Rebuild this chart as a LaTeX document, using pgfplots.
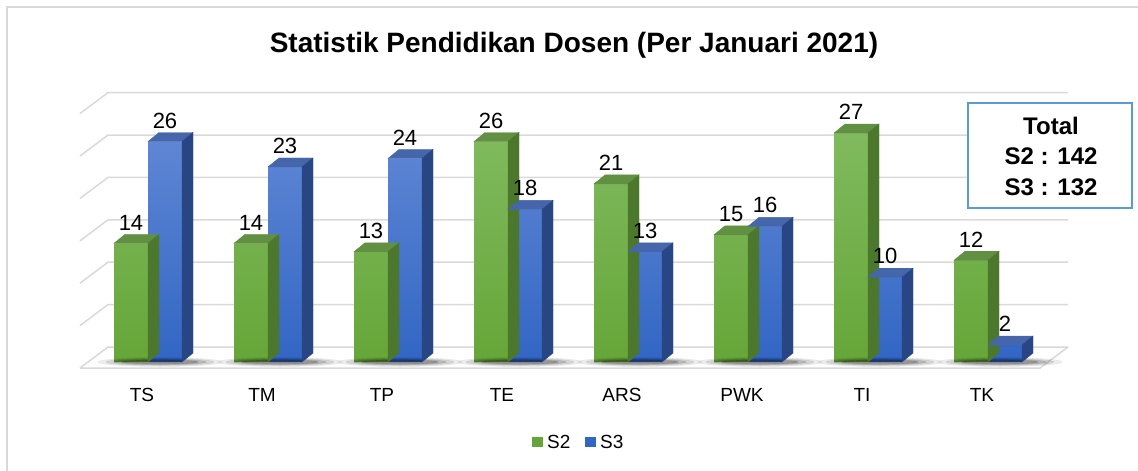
\documentclass[border=0pt]{standalone}
\usepackage{pgfplots}
\pgfplotsset{compat=1.18}
\usepackage{pgfplotstable}
\usepackage{fontspec}
\setmainfont{Liberation Sans}
\definecolor{gfront1}{RGB}{128,186,94}
\definecolor{gfront2}{RGB}{102,166,56}
\definecolor{gtop}{RGB}{98,144,66}
\definecolor{gside}{RGB}{76,120,46}
\definecolor{bfront1}{RGB}{94,134,212}
\definecolor{bfront2}{RGB}{50,102,196}
\definecolor{btop}{RGB}{70,102,172}
\definecolor{bside}{RGB}{40,70,132}
\definecolor{gridc}{RGB}{217,217,217}
\definecolor{boxc}{RGB}{91,155,213}
\pgfdeclareplotmark{emptymark}{}
\pgfplotstableread{
x S2 S3
0 14 26
1 14 23
2 13 24
3 26 18
4 21 13
5 15 16
6 27 10
7 12 2
}\datatable
\begin{document}
\begin{tikzpicture}
\useasboundingbox (0pt,0pt) rectangle (1138pt,-471pt);
\draw[gridc, line width=1.5pt] (7pt,-471pt) -- (7pt,-7pt) -- (1138pt,-7pt);
\node[font=\bfseries\fontsize{28}{32}\selectfont, anchor=base] at (574pt,-52pt) {Statistik Pendidikan Dosen (Per Januari 2021)};
\begin{axis}[
  at={(88pt,-362pt)}, anchor=south west,
  x=120pt, y=8.48pt,
  xmin=-0.5, xmax=7.5, ymin=0, ymax=30,
  axis line style={draw=none}, tick style={draw=none},
  ytick=\empty,
  xtick={0,...,7},
  xticklabels={TS,TM,TP,TE,ARS,PWK,TI,TK},
  xticklabel style={font=\fontsize{19}{21}\selectfont, anchor=north, inner sep=0pt, yshift=-26pt, xshift=-6pt},
  clip=false,
  /pgf/number format/assume math mode=true,
]
\pgfplotsinvokeforeach{0,5,10,15,20,25,30}{
  \draw[gridc, line width=1.5pt] ([shift={(-8pt,-6pt)}]axis cs:-0.5,#1) -- ([shift={(20pt,15pt)}]axis cs:-0.5,#1) -- ([shift={(20pt,15pt)}]axis cs:7.5,#1);
}
\draw[gridc, line width=1.5pt] ([shift={(-8pt,-6pt)}]axis cs:-0.5,0) -- ([shift={(-8pt,-6pt)}]axis cs:7.5,0) -- ([shift={(20pt,15pt)}]axis cs:7.5,0);
% shadows
\addplot[only marks, mark=emptymark, scatter,
  visualization depends on={rawy\as\val},
  scatter/@pre marker code/.code={
    \fill[black, opacity=0.07] (12pt,{-8.48pt*\val}) ellipse (62pt and 4.5pt);
    \fill[black, opacity=0.10] (12pt,{-8.48pt*\val}) ellipse (54pt and 3.6pt);
    \fill[black, opacity=0.14] (12pt,{-8.48pt*\val}) ellipse (46pt and 2.8pt);
    \fill[black, opacity=0.18] (12pt,{-8.48pt*\val}) ellipse (38pt and 2.0pt);
  },
  scatter/@post marker code/.code={}] table[x=x,y=S2]{\datatable};
% S2 front
\addplot[ybar, bar width=34pt, bar shift=-17pt, draw=none, top color=gfront1, bottom color=gfront2,
  nodes near coords,
  every node near coord/.append style={font=\fontsize{22}{24}\selectfont, anchor=south, inner sep=0pt, yshift=13pt, xshift=-17pt, black}]
  table[x=x,y=S2]{\datatable};
% S2 faces
\addplot[only marks, mark=emptymark, scatter,
  visualization depends on={rawy\as\val},
  scatter/@pre marker code/.code={
    \fill[gtop] (-34pt,0pt) -- (0pt,0pt) -- (11pt,9pt) -- (-23pt,9pt) -- cycle;
    \fill[gside] (0pt,0pt) -- (11pt,9pt) -- (11pt,{9pt-8.48pt*\val}) -- (0pt,{-8.48pt*\val}) -- cycle;
  },
  scatter/@post marker code/.code={}] table[x=x,y=S2]{\datatable};
% S3 front
\addplot[ybar, bar width=34pt, bar shift=17pt, draw=none, top color=bfront1, bottom color=bfront2,
  nodes near coords,
  every node near coord/.append style={font=\fontsize{22}{24}\selectfont, anchor=south, inner sep=0pt, yshift=13pt, xshift=17pt, black}]
  table[x=x,y=S3]{\datatable};
% S3 faces
\addplot[only marks, mark=emptymark, scatter,
  visualization depends on={rawy\as\val},
  scatter/@pre marker code/.code={
    \fill[btop] (0pt,0pt) -- (34pt,0pt) -- (45pt,9pt) -- (11pt,9pt) -- cycle;
    \fill[bside] (34pt,0pt) -- (45pt,9pt) -- (45pt,{9pt-8.48pt*\val}) -- (34pt,{-8.48pt*\val}) -- cycle;
  },
  scatter/@post marker code/.code={}] table[x=x,y=S3]{\datatable};
\end{axis}
% Total box
\filldraw[fill=white, draw=boxc, line width=1.5pt] (968pt,-103pt) rectangle (1132pt,-208pt);
\node[font=\bfseries\fontsize{24}{30.5}\selectfont, align=center, inner sep=0pt] at (1051pt,-156pt) {Total\\S2 : 142\\S3 : 132};
% legend
\fill[gfront2] (532pt,-437pt) rectangle (543pt,-447pt);
\node[anchor=base west, inner sep=0pt, font=\fontsize{19}{21}\selectfont] at (547pt,-448pt) {S2};
\fill[bfront2] (585pt,-437pt) rectangle (596pt,-447pt);
\node[anchor=base west, inner sep=0pt, font=\fontsize{19}{21}\selectfont] at (600pt,-448pt) {S3};
\end{tikzpicture}
\end{document}
